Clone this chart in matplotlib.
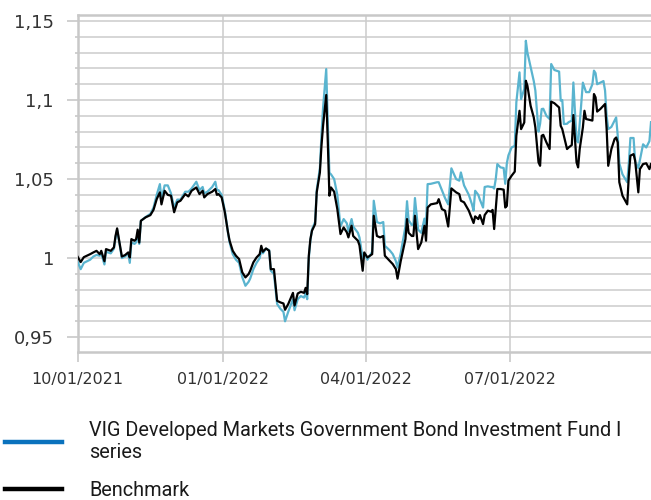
import matplotlib
matplotlib.use('Agg')
import matplotlib.pyplot as plt
import matplotlib.dates as mdates
from matplotlib.lines import Line2D
from matplotlib.ticker import MultipleLocator, FuncFormatter
import pandas as pd

# days since 2021-10-01
day_offsets = [
    0, 2, 4, 8, 10, 12, 14, 15, 17, 18, 21, 23, 24, 25, 28, 30, 32, 33, 34, 36,
    37, 38, 39, 40, 43, 46, 48, 50, 52, 53, 55, 57, 59, 61, 63, 65, 68, 70, 72, 75,
    77, 79, 80, 82, 85, 87, 88, 89, 91, 93, 95, 96, 98, 100, 102, 104, 106, 108, 109, 111,
    113, 115, 116, 117, 119, 121, 122, 124, 126, 128, 130, 131, 133, 136, 137, 139, 141, 143, 144, 145,
    146, 147, 148, 150, 151, 153, 154, 155, 157, 158, 159, 160, 162, 164, 166, 168, 170, 171, 173, 174,
    177, 178, 180, 181, 183, 186, 187, 189, 191, 193, 194, 197, 199, 201, 202, 204, 207, 208, 209, 211,
    212, 213, 215, 217, 219, 220, 221, 223, 227, 228, 230, 232, 234, 236, 239, 241, 242, 244, 247, 249,
    250, 251, 253, 254, 256, 257, 259, 261, 262, 263, 264, 265, 267, 269, 270, 271, 272, 274, 276, 277,
    279, 280, 282, 283, 284, 286, 288, 289, 291, 292, 293, 294, 296, 298, 299, 301, 304, 305, 306, 307,
    309, 310, 312, 313, 315, 316, 317, 319, 320, 321, 323, 325, 326, 327, 328, 330, 332, 333, 334, 335,
    337, 339, 340, 341, 342, 344, 347, 348, 349, 351, 352, 354, 355, 357, 359, 361, 362,
]

benchmark = [
    1.0010, 0.9975, 1.0006, 1.0025, 1.0036, 1.0046, 1.0025, 1.0046, 0.9980, 1.0057,
    1.0046, 1.0068, 1.0140, 1.0188, 1.0010, 1.0019, 1.0036, 1.0004, 1.0120, 1.0110,
    1.0120, 1.0180, 1.0099, 1.0236, 1.0258, 1.0272, 1.0306, 1.0373, 1.0416, 1.0340,
    1.0426, 1.0400, 1.0395, 1.0290, 1.0353, 1.0363, 1.0405, 1.0390, 1.0426, 1.0447,
    1.0405, 1.0426, 1.0384, 1.0405, 1.0420, 1.0437, 1.0400, 1.0405, 1.0384, 1.0290,
    1.0163, 1.0110, 1.0046, 1.0015, 0.9994, 0.9910, 0.9878, 0.9899, 0.9920, 0.9973,
    1.0004, 1.0025, 1.0078, 1.0040, 1.0061, 1.0046, 0.9930, 0.9930, 0.9730, 0.9720,
    0.9713, 0.9673, 0.9709, 0.9780, 0.9700, 0.9776, 0.9787, 0.9780, 0.9812, 0.9772,
    1.0015, 1.0120, 1.0173, 1.0215, 1.0416, 1.0542, 1.0711, 1.0837, 1.1032, 1.0732,
    1.0395, 1.0447, 1.0420, 1.0310, 1.0152, 1.0194, 1.0163, 1.0131, 1.0205, 1.0140,
    1.0110, 1.0080, 0.9920, 1.0036, 1.0004, 1.0025, 1.0268, 1.0140, 1.0131, 1.0140,
    1.0015, 0.9983, 0.9962, 0.9930, 0.9870, 0.9980, 1.0120, 1.0247, 1.0160, 1.0140,
    1.0140, 1.0268, 1.0057, 1.0099, 1.0205, 1.0110, 1.0320, 1.0340, 1.0348, 1.0373,
    1.0310, 1.0300, 1.0200, 1.0441, 1.0416, 1.0405, 1.0363, 1.0353, 1.0300, 1.0247,
    1.0222, 1.0264, 1.0247, 1.0272, 1.0215, 1.0272, 1.0300, 1.0294, 1.0305, 1.0184,
    1.0315, 1.0437, 1.0437, 1.0433, 1.0320, 1.0330, 1.0490, 1.0521, 1.0547, 1.0774,
    1.0932, 1.0816, 1.0858, 1.1122, 1.1090, 1.0964, 1.0890, 1.0827, 1.0606, 1.0584,
    1.0774, 1.0780, 1.0732, 1.0690, 1.0990, 1.0980, 1.0953, 1.0837, 1.0816, 1.0774,
    1.0690, 1.0700, 1.0715, 1.0905, 1.0606, 1.0574, 1.0690, 1.0827, 1.0932, 1.0880,
    1.0875, 1.0870, 1.1038, 1.1017, 1.0927, 1.0943, 1.0964, 1.0975, 1.0816, 1.0584,
    1.0690, 1.0753, 1.0763, 1.0732, 1.0480, 1.0395, 1.0340, 1.0521, 1.0648, 1.0658,
    1.0616, 1.0416, 1.0563, 1.0595, 1.0600, 1.0563, 1.0595,
]

fund = [
    0.9980, 0.9930, 0.9970, 0.9990, 1.0010, 1.0020, 1.0015, 1.0030, 0.9960, 1.0040,
    1.0030, 1.0060, 1.0130, 1.0180, 1.0000, 1.0010, 1.0030, 0.9970, 1.0100, 1.0090,
    1.0100, 1.0160, 1.0090, 1.0236, 1.0260, 1.0280, 1.0320, 1.0400, 1.0468, 1.0373,
    1.0460, 1.0460, 1.0410, 1.0320, 1.0370, 1.0370, 1.0420, 1.0420, 1.0440, 1.0483,
    1.0430, 1.0450, 1.0410, 1.0420, 1.0450, 1.0483, 1.0430, 1.0430, 1.0400, 1.0300,
    1.0160, 1.0100, 1.0025, 0.9990, 0.9970, 0.9880, 0.9825, 0.9850, 0.9870, 0.9930,
    0.9970, 1.0000, 1.0050, 1.0030, 1.0060, 1.0050, 0.9920, 0.9900, 0.9710, 0.9680,
    0.9660, 0.9600, 0.9660, 0.9740, 0.9670, 0.9740, 0.9760, 0.9750, 0.9780, 0.9740,
    1.0000, 1.0110, 1.0180, 1.0230, 1.0430, 1.0570, 1.0780, 1.0950, 1.1196, 1.0850,
    1.0540, 1.0530, 1.0500, 1.0400, 1.0200, 1.0247, 1.0220, 1.0170, 1.0247, 1.0200,
    1.0160, 1.0130, 1.0000, 1.0030, 0.9990, 1.0040, 1.0363, 1.0228, 1.0220, 1.0228,
    1.0078, 1.0050, 1.0025, 0.9980, 0.9940, 1.0030, 1.0200, 1.0360, 1.0240, 1.0210,
    1.0210, 1.0380, 1.0180, 1.0160, 1.0250, 1.0210, 1.0468, 1.0470, 1.0480, 1.0480,
    1.0430, 1.0380, 1.0340, 1.0568, 1.0500, 1.0490, 1.0542, 1.0460, 1.0400, 1.0340,
    1.0300, 1.0426, 1.0400, 1.0370, 1.0320, 1.0450, 1.0454, 1.0450, 1.0450, 1.0440,
    1.0500, 1.0595, 1.0574, 1.0570, 1.0470, 1.0600, 1.0650, 1.0700, 1.0710, 1.0985,
    1.1175, 1.1006, 1.1070, 1.1375, 1.1300, 1.1210, 1.1120, 1.1060, 1.0800, 1.0850,
    1.0943, 1.0945, 1.0900, 1.0880, 1.1228, 1.1190, 1.1180, 1.0996, 1.1000, 1.0848,
    1.0850, 1.0860, 1.0870, 1.1111, 1.0745, 1.0732, 1.0850, 1.1110, 1.1080, 1.1050,
    1.1050, 1.1100, 1.1186, 1.1170, 1.1100, 1.1110, 1.1120, 1.1060, 1.0900, 1.0816,
    1.0830, 1.0870, 1.0890, 1.0774, 1.0600, 1.0530, 1.0480, 1.0600, 1.0760, 1.0760,
    1.0610, 1.0570, 1.0620, 1.0720, 1.0700, 1.0740, 1.0860,
]

fund_label = 'VIG Developed Markets Government Bond Investment Fund I\nseries'
bench_label = 'Benchmark'
x_ticks = ['2021-10-01', '2022-01-01', '2022-04-01', '2022-07-01']

start = pd.Timestamp('2021-10-01')
dates = start + pd.to_timedelta(day_offsets, unit='D')

grid_c = '#cccccc'
fig = plt.figure(figsize=(6.51, 5.0), dpi=100)
ax = fig.add_axes([77.5 / 651, 1 - 352 / 500, 1 - 77.5 / 651, (352 - 15) / 500])

ax.plot(dates, fund, color='#5ab4cf', lw=1.6, zorder=3)
ax.plot(dates, benchmark, color='black', lw=1.6, zorder=4)

ax.set_xlim(start, pd.Timestamp('2022-09-28'))
ax.set_ylim(0.9406, 1.1538)

ax.set_xticks(pd.to_datetime(x_ticks))
ax.xaxis.set_major_formatter(mdates.DateFormatter('%m/%d/%Y'))
ax.yaxis.set_major_locator(MultipleLocator(0.05))
ax.yaxis.set_minor_locator(MultipleLocator(0.01))
ax.yaxis.set_major_formatter(FuncFormatter(lambda v, p: f'{round(v, 2):g}'.replace('.', ',')))

ax.grid(axis='y', which='both', color=grid_c, lw=1.1, zorder=1)
ax.grid(axis='x', which='major', color=grid_c, lw=1.1, zorder=1)

for side in ['left', 'top', 'bottom']:
    ax.spines[side].set_color('#c8c8c8')
    ax.spines[side].set_linewidth(1.8)
ax.spines['right'].set_visible(False)

ax.tick_params(axis='y', which='major', length=8, width=1.2, color='#c8c8c8',
               labelsize=13, labelcolor='#333333', pad=9)
ax.tick_params(axis='y', which='minor', length=2.5, width=1.2, color='#c8c8c8')
ax.tick_params(axis='x', which='major', length=7.5, width=1.2, color='#c8c8c8',
               labelsize=11.5, labelcolor='#333333', pad=7)

handles = [Line2D([], [], color='#0a72bd', lw=3.2),
           Line2D([], [], color='black', lw=3.2)]
fig.legend(handles, [fund_label, bench_label], loc='upper left',
           bbox_to_anchor=(5 / 651, 1 - 421 / 500), frameon=False,
           prop={'family': 'Roboto', 'size': 14.3}, handlelength=2.85,
           handletextpad=1.4, labelspacing=0.95, borderpad=0, borderaxespad=0,
           labelcolor='#1a1a1a')

fig.savefig('out.png', dpi=100)
